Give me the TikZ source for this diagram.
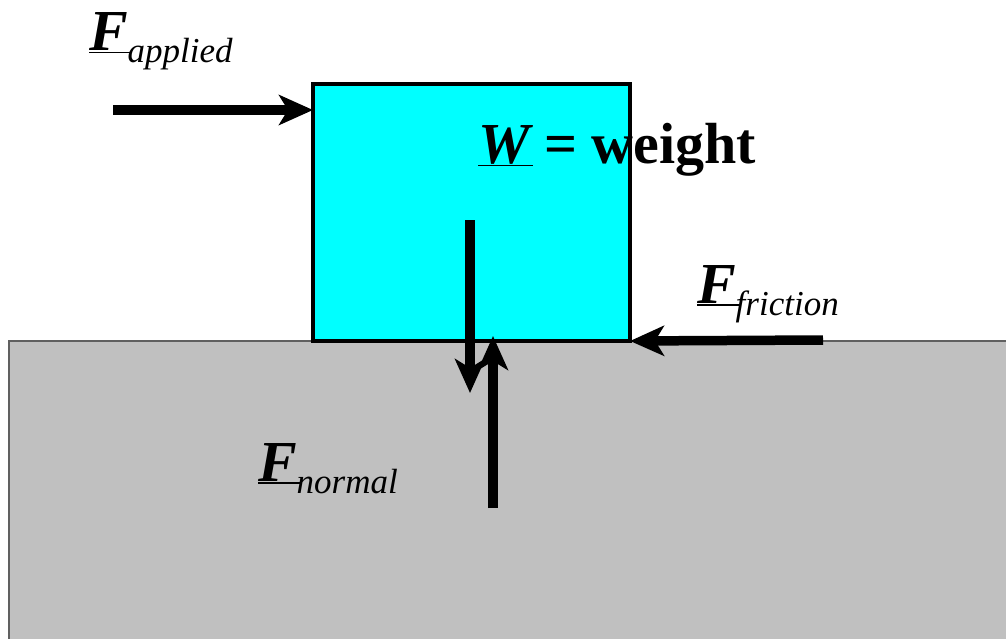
\documentclass[tikz,border=0pt]{standalone}
\usepackage{fontspec}
\setmainfont{Liberation Serif}
\usetikzlibrary{arrows.meta}
\definecolor{blockcyan}{RGB}{0,255,255}
\definecolor{groundgray}{RGB}{192,192,192}
\definecolor{edgegray}{RGB}{96,96,96}
\newcommand{\bigvec}[1]{\setbox0\hbox{\fontsize{58}{60}\selectfont\bfseries\itshape #1}\rlap{\raisebox{-2.5pt}{\rule{\dimexpr\wd0+3pt\relax}{1.4pt}}}\box0}
\newcommand{\lowsub}[1]{\raisebox{-12pt}{\fontsize{35}{40}\selectfont\itshape #1}}
\begin{document}
\begin{tikzpicture}[x=1pt,y=-1pt,
  groundfill/.style={fill=groundgray},
  groundedge/.style={draw=edgegray, line width=1.5pt},
  blockstyle/.style={draw=black, fill=blockcyan, line width=3.5pt, inner sep=0pt, outer sep=0pt, minimum width=317pt, minimum height=257pt},
  force/.style={line width=9.5pt, -{Stealth[length=34pt,width=30pt,inset=9pt]}},
  lbl/.style={anchor=base west, inner sep=0pt, outer sep=0pt}]
\useasboundingbox (0,0) rectangle (1006,639);
% ground
\fill[groundfill] (9,341) rectangle (1010,645);
\draw[groundedge] (1010,341) -- (9,341) -- (9,645);
% block
\node[blockstyle] (block) at (471.5,212.5) {};
% forces
\coordinate (a0) at (113,110);
\coordinate (w0) at (470,220);
\coordinate (w1) at (470,393);
\coordinate (n0) at (493,508);
\coordinate (n1) at (493,336);
\coordinate (f0) at (823,340);
\draw[force] (a0) -- (a0 -| block.west);
\draw[force] (w0) -- (w1);
\draw[force] (n0) -- (n1);
\draw[force] (f0) -- (block.south east);
% labels
\node[lbl] (fapplied) at (89,51) {\bigvec{F}\lowsub{applied}};
\node[lbl] (wlabel) at (478,164) {\bigvec{W}{\fontsize{58}{60}\selectfont\bfseries\ = weight}};
\node[lbl] (ffriction) at (697,303) {\bigvec{F}\lowsub{friction}};
\node[lbl] (fnormal) at (258,481) {\bigvec{F}\lowsub{normal}};
\end{tikzpicture}
\end{document}
